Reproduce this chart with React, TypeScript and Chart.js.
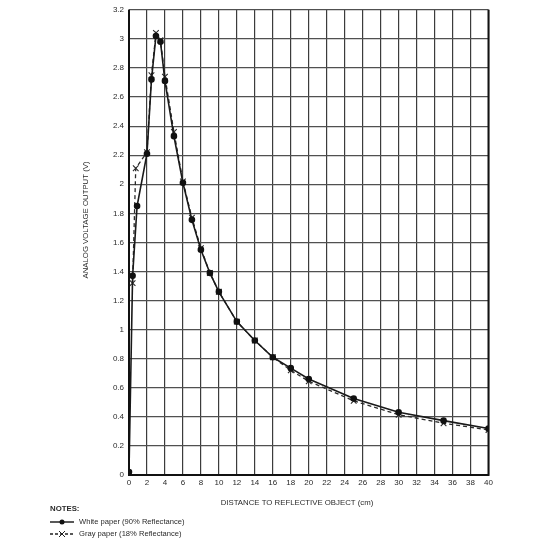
import React, { useEffect, useRef } from "react";
import { Chart, registerables } from "chart.js";

Chart.register(...registerables);

const whiteX = [0, 0.4, 0.9, 2, 2.5, 3, 3.5, 4, 5, 6, 7, 8, 9, 10, 12, 14, 16, 18, 20, 25, 30, 35, 40];
const whiteY = [0.02, 1.37, 1.85, 2.21, 2.72, 3.02, 2.98, 2.71, 2.33, 2.01, 1.755, 1.55, 1.39, 1.26, 1.055, 0.925, 0.81, 0.735, 0.66, 0.526, 0.432, 0.374, 0.32];
const grayX = [0.4, 0.75, 2, 2.5, 3, 3.5, 4, 5, 6, 7, 8, 9, 10, 12, 14, 16, 18, 20, 25, 30, 35, 40];
const grayY = [1.32, 2.11, 2.22, 2.75, 3.04, 2.99, 2.74, 2.36, 2.02, 1.77, 1.56, 1.39, 1.26, 1.055, 0.925, 0.81, 0.72, 0.645, 0.51, 0.415, 0.356, 0.31];

const xTitle = "DISTANCE TO REFLECTIVE OBJECT (cm)";
const yTitle = "ANALOG VOLTAGE OUTPUT (V)";
const notesTitle = "NOTES:";
const whiteLabel = "White paper (90% Reflectance)";
const grayLabel = "Gray paper (18% Reflectance)";

const FONT = "'Liberation Sans', Arial, sans-serif";

const extrasPlugin = {
  id: "extras",
  afterDraw(chart: any) {
    const ctx = chart.ctx;
    const a = chart.chartArea;
    ctx.save();
    // borders
    ctx.strokeStyle = "#111";
    ctx.lineWidth = 2;
    ctx.beginPath();
    ctx.moveTo(a.left, a.top);
    ctx.lineTo(a.left, a.bottom);
    ctx.lineTo(a.right, a.bottom);
    ctx.lineTo(a.right, a.top);
    ctx.stroke();

    ctx.fillStyle = "#2a2a2a";
    ctx.font = `7.8px ${FONT}`;
    ctx.textAlign = "center";
    ctx.textBaseline = "middle";
    ctx.fillText(xTitle, 297, 503);

    ctx.save();
    ctx.translate(86, 220);
    ctx.rotate(-Math.PI / 2);
    ctx.fillText(yTitle, 0, 0);
    ctx.restore();

    ctx.textAlign = "left";
    ctx.font = `bold 7.8px ${FONT}`;
    ctx.fillText(notesTitle, 50, 509);
    ctx.font = `7.6px ${FONT}`;
    ctx.fillText(whiteLabel, 79, 522);
    ctx.fillText(grayLabel, 79, 534);

    // legend samples
    ctx.strokeStyle = "#222";
    ctx.lineWidth = 1.5;
    ctx.beginPath();
    ctx.moveTo(50, 522);
    ctx.lineTo(74, 522);
    ctx.stroke();
    ctx.fillStyle = "#111";
    ctx.beginPath();
    ctx.arc(62, 522, 2.5, 0, Math.PI * 2);
    ctx.fill();

    ctx.setLineDash([3, 2]);
    ctx.beginPath();
    ctx.moveTo(50, 534);
    ctx.lineTo(74, 534);
    ctx.stroke();
    ctx.setLineDash([]);
    ctx.lineWidth = 1;
    ctx.beginPath();
    ctx.moveTo(59, 531);
    ctx.lineTo(65, 537);
    ctx.moveTo(65, 531);
    ctx.lineTo(59, 537);
    ctx.stroke();
    ctx.restore();
  },
};

export default function App() {
  const ref = useRef<HTMLCanvasElement>(null);
  useEffect(() => {
    if (!ref.current) return;
    const white = whiteX.map((x, i) => ({ x, y: whiteY[i] }));
    const gray = grayX.map((x, i) => ({ x, y: grayY[i] }));
    const chart = new Chart(ref.current, {
      type: "line",
      data: {
        datasets: [
          {
            label: whiteLabel,
            data: white,
            borderColor: "#1a1a1a",
            backgroundColor: "#111",
            borderWidth: 1.6,
            pointStyle: "circle",
            pointRadius: 2.5,
            pointBackgroundColor: "#111",
            pointBorderColor: "#111",
            tension: 0,
            order: 1,
          },
          {
            label: grayLabel,
            data: gray,
            borderColor: "#2a2a2a",
            backgroundColor: "#2a2a2a",
            borderWidth: 1.3,
            borderDash: [4, 3],
            pointStyle: "crossRot",
            pointRadius: 4,
            pointBorderColor: "#2a2a2a",
            pointBorderWidth: 1.1,
            tension: 0,
            order: 2,
          },
        ],
      },
      options: {
        responsive: false,
        animation: false,
        layout: { padding: { top: 5.5, right: 51.5, left: 0, bottom: 0 } },
        plugins: { legend: { display: false }, tooltip: { enabled: false } },
        scales: {
          x: {
            type: "linear",
            min: 0,
            max: 40,
            afterFit: (s: any) => {
              s.height = 65;
            },
            ticks: {
              stepSize: 2,
              padding: 3,
              color: "#2a2a2a",
              font: { family: FONT, size: 8 },
              maxRotation: 0,
            },
            grid: { color: "#3c3c3c", lineWidth: 1.2, drawTicks: false },
            border: { display: false },
          },
          y: {
            type: "linear",
            min: 0,
            max: 3.2,
            afterFit: (s: any) => {
              s.width = 129;
            },
            ticks: {
              stepSize: 0.2,
              padding: 5,
              color: "#2a2a2a",
              font: { family: FONT, size: 8 },
              callback: (v: any) => String(Number(Number(v).toFixed(1))),
            },
            grid: { color: "#505050", lineWidth: 1.2, drawTicks: false },
            border: { display: false },
          },
        },
      },
      plugins: [extrasPlugin],
    });
    return () => chart.destroy();
  }, []);
  return (
    <div style={{ position: "fixed", left: 0, top: 0, width: 540, height: 540, background: "#fff" }}>
      <canvas ref={ref} width={540} height={540} />
    </div>
  );
}
